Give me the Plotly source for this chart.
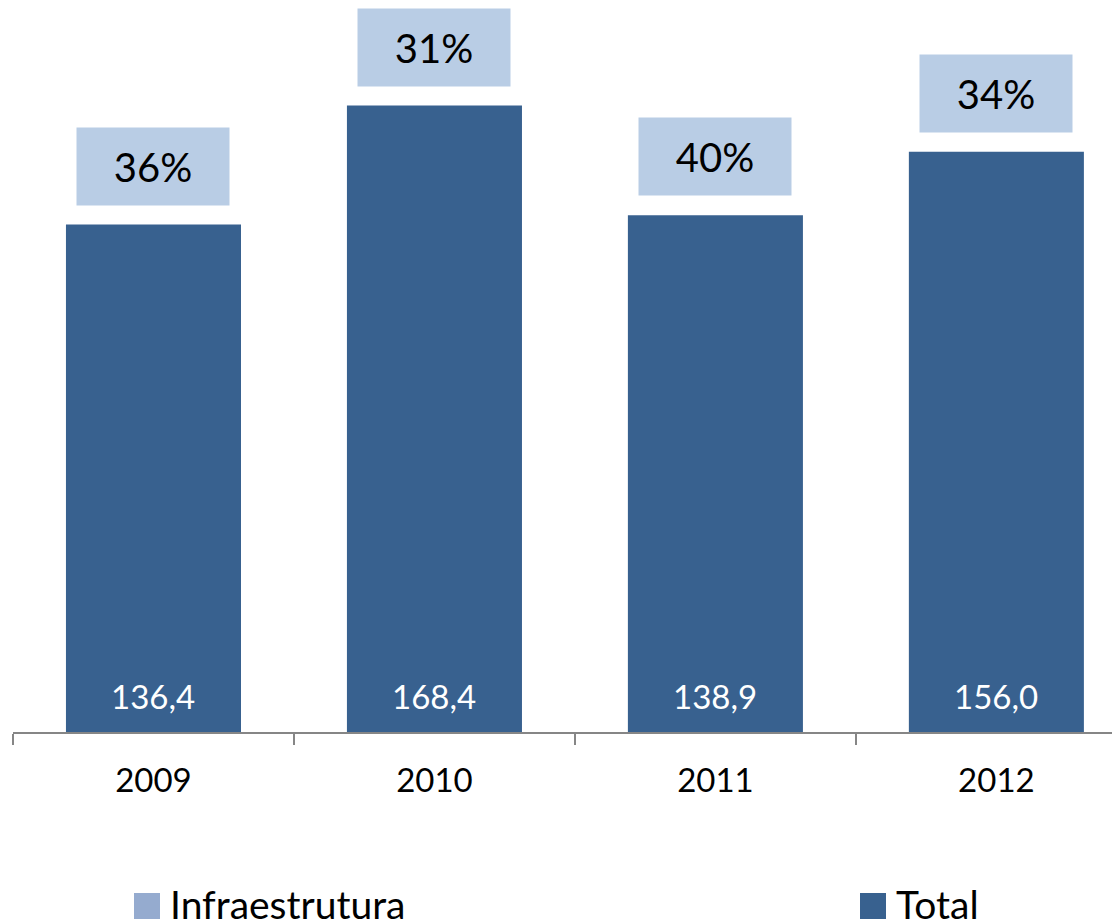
import plotly.graph_objects as go

years = ["2009", "2010", "2011", "2012"]
total = [136.4, 168.4, 138.9, 156.0]
infra_share = ["36%", "31%", "40%", "34%"]

DARK = "#38618F"
LIGHT_BOX = "#B9CDE5"
LIGHT_KEY = "#95ABCF"
FONT = "Lato"

# page body has an 8px margin, so the figure is drawn 8px in from the top-left
W, H = 1112, 913
L, B = 5, 189
PW, PH = W - L, H - B  # plot area in px


def px_x(screen_x):
    return (screen_x - 8 - L) / PW


def px_y(screen_y):
    return (H - B - (screen_y - 8)) / PH


fig = go.Figure()

fig.add_trace(go.Bar(
    x=years,
    y=total,
    name="Total",
    marker=dict(color=DARK, line=dict(width=0)),
    width=0.623,
    showlegend=False,
    hoverinfo="x+y",
))

# value labels near the base of each bar
for i, val in enumerate(total):
    fig.add_annotation(
        x=i, y=0, xref="x", yref="y",
        text=f"{val:.1f}".replace(".", ","), showarrow=False,
        yanchor="bottom", yshift=14,
        font=dict(family=FONT, size=33, color="white"),
    )

# percentage boxes above each bar
for i, (val, pct) in enumerate(zip(total, infra_share)):
    fig.add_annotation(
        x=i, y=val, xref="x", yref="y",
        text=pct, showarrow=False,
        yanchor="bottom", yshift=19,
        width=152, height=77, borderpad=0,
        bgcolor=LIGHT_BOX,
        font=dict(family=FONT, size=40, color="black"),
    )

# custom legend (big square keys)
legend_items = [("Infraestrutura", LIGHT_KEY, 134), ("Total", DARK, 860)]
for label, color, sx in legend_items:
    fig.add_shape(
        type="rect", xref="paper", yref="paper",
        x0=px_x(sx), x1=px_x(sx + 26),
        y0=px_y(893), y1=px_y(919),
        fillcolor=color, line=dict(width=0),
    )
    fig.add_annotation(
        xref="paper", yref="paper",
        x=px_x(sx + 34), y=px_y(904),
        xanchor="left", yanchor="middle",
        text=label, showarrow=False,
        font=dict(family=FONT, size=39, color="black"),
    )

fig.update_layout(
    width=W, height=H,
    margin=dict(l=L, r=0, t=0, b=B),
    paper_bgcolor="white", plot_bgcolor="white",
    xaxis=dict(
        type="category",
        range=[-0.5, 3.44],
        showline=True, linecolor="#868686", linewidth=2,
        ticks="outside", tickson="boundaries", ticklen=11,
        tickcolor="#868686", tickwidth=2,
        ticklabelstandoff=18,
        tickfont=dict(family=FONT, size=33, color="black"),
        showgrid=False,
    ),
    yaxis=dict(
        range=[0, PH / 3.72],
        showticklabels=False, showline=False, ticks="",
        showgrid=False, zeroline=False,
    ),
)

fig.write_html("out.html")
